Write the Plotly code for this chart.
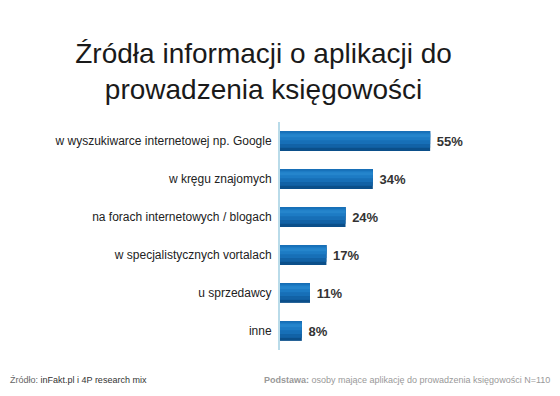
import plotly.graph_objects as go

categories = [
    "w wyszukiwarce internetowej np. Google",
    "w kręgu znajomych",
    "na forach internetowych / blogach",
    "w specjalistycznych vortalach",
    "u sprzedawcy",
    "inne",
]
values = [55, 34, 24, 17, 11, 8]
value_labels = [f"\u00a0<b>{v}%</b>" for v in values]

FONT = "Liberation Sans, Arial, Helvetica, sans-serif"
W, H = 552, 388          # page body has an 8px margin
ML, MR, MT, MB = 272, 7, 114, 46

# layered shading to mimic the cylinder gradient: (offset, width, colour)
shading = [
    (-0.26, 0.52, "#0b4f8a"),
    (-0.26, 0.44, "#1262a6"),
    (-0.26, 0.34, "#176fb7"),
    (-0.22, 0.20, "#1d7bc4"),
    (-0.18, 0.08, "#2585cc"),
]

fig = go.Figure()
for i, (off, wd, col) in enumerate(shading):
    fig.add_trace(go.Bar(
        y=categories,
        x=values,
        orientation="h",
        offset=off,
        width=wd,
        marker=dict(color=col, line=dict(width=0)),
        text=value_labels if i == 0 else None,
        textposition="outside" if i == 0 else "none",
        textfont=dict(family=FONT, size=13, color="#333333"),
        cliponaxis=False,
        hoverinfo="skip",
    ))

plot_w = W - ML - MR
plot_h = H - MT - MB

def px_to_paper(px, py):
    return (px - ML) / plot_w, (H - MB - py) / plot_h

lx, ly = px_to_paper(0, 372)
rx, ry = px_to_paper(544, 372)

fig.update_layout(
    width=W,
    height=H,
    barmode="overlay",
    paper_bgcolor="white",
    plot_bgcolor="white",
    margin=dict(l=ML, r=MR, t=MT, b=MB, autoexpand=False),
    showlegend=False,
    title=dict(
        text="Źródła informacji o aplikacji do<br>prowadzenia księgowości",
        x=0.463,
        xanchor="center",
        y=0.858,
        yanchor="top",
        font=dict(family=FONT, size=28, color="#1a1a1a"),
    ),
    xaxis=dict(range=[0, 100], visible=False, fixedrange=True),
    yaxis=dict(
        autorange="reversed",
        automargin=False,
        showline=True,
        linecolor="#b9dbe9",
        linewidth=2,
        ticks="",
        ticklabelstandoff=4,
        tickfont=dict(family=FONT, size=12, color="#222222"),
        showgrid=False,
        fixedrange=True,
    ),
    annotations=[
        dict(
            text="<span style='color:#666666'>Źródło:</span> inFakt.pl i 4P research mix",
            x=lx, y=ly, xref="paper", yref="paper", showarrow=False,
            xanchor="left", yanchor="middle",
            font=dict(family=FONT, size=9, color="#333333"),
        ),
        dict(
            text="<b>Podstawa:</b> osoby mające aplikację do prowadzenia księgowości N=110",
            x=rx, y=ry, xref="paper", yref="paper", showarrow=False,
            xanchor="right", yanchor="middle",
            font=dict(family=FONT, size=9, color="#999999"),
        ),
    ],
)

fig.write_html("out.html")
